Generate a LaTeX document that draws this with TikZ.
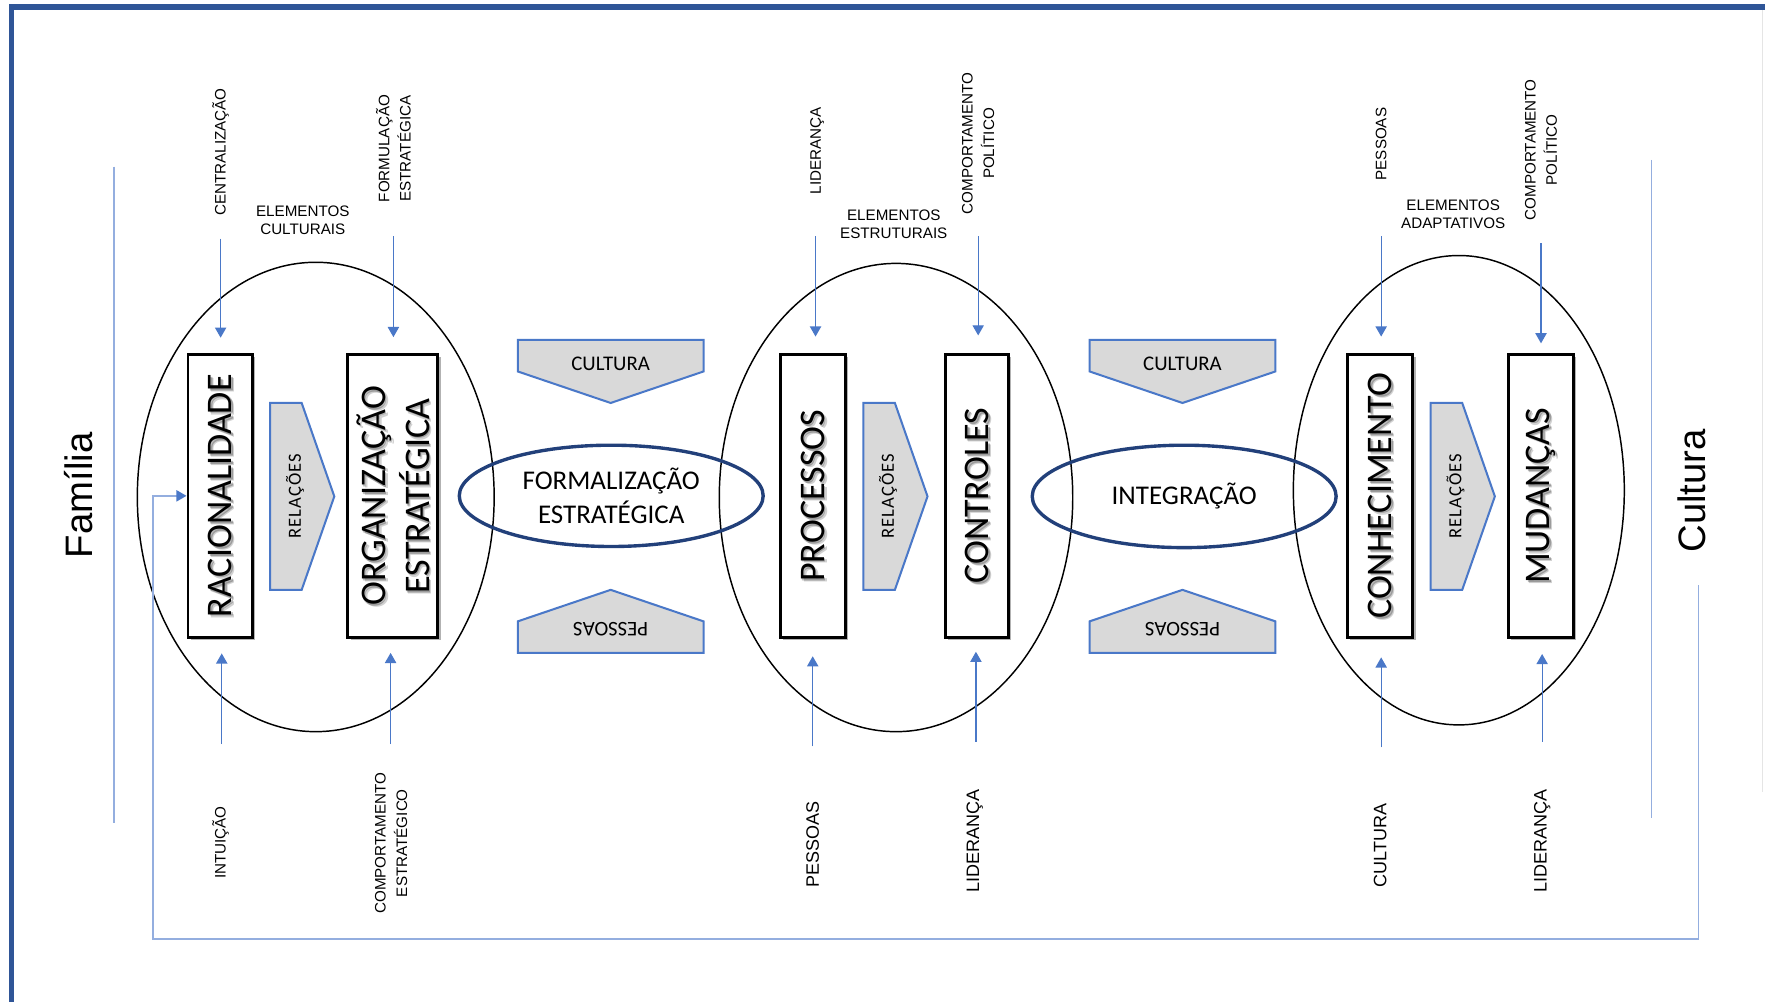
\documentclass[tikz,border=0pt]{standalone}
\usepackage{fontspec}
\setmainfont{Liberation Sans}
\newfontfamily\calfont{Carlito}
\usetikzlibrary{arrows.meta,shadows,shapes.geometric}
\definecolor{frameblue}{HTML}{2F5597}
\definecolor{arrblue}{HTML}{4A78C8}
\definecolor{lightblue}{HTML}{94AEDF}
\definecolor{navy}{HTML}{22407A}
\definecolor{shapegray}{HTML}{D9D9D9}
\tikzset{
  thinline/.style={draw=lightblue, line width=1.4pt},
  arr/.style={draw=arrblue, line width=1.1pt, -{Triangle[width=10pt,length=9pt]}},
  lbl/.style={inner sep=0pt, font=\fontsize{13.5}{16}\selectfont, align=center},
  lblbig/.style={inner sep=0pt, font=\fontsize{16}{19}\selectfont},
  lbltwo/.style={inner sep=0pt, font=\fontsize{13.5}{19}\selectfont, align=center},
  bigtext/.style={inner sep=0pt, font=\fontsize{34}{40}\selectfont},
  blackell/.style={draw=black, line width=1.3pt, ellipse, inner sep=0pt},
  blueell/.style={draw=navy, line width=3pt, ellipse, inner sep=0pt},
  elltext/.style={inner sep=0pt, font=\calfont\fontsize{24}{31}\selectfont, align=center},
  grayshape/.style={draw=arrblue, line width=1.8pt, fill=shapegray},
  shapetext/.style={inner sep=0pt, font=\calfont\fontsize{18.5}{22}\selectfont},
  reltext/.style={inner sep=0pt, font=\calfont\fontsize{16.5}{19}\selectfont\addfontfeature{LetterSpace=6}},
  cbox/.style={draw=black, line width=2.6pt, fill=white, inner sep=0pt, minimum height=251pt,
    drop shadow={shadow xshift=2.5pt, shadow yshift=-2.5pt, opacity=0.3, fill=black}},
  ctext/.style={inner sep=0pt, font=\calfont\fontsize{32}{39}\selectfont, align=center},
}
\newcommand\conceptbox[4]{%
  \node[cbox, minimum width=#3pt] (#1) at (#2,440.5) {};
  \node[ctext, text=black, opacity=0.18, rotate=90] (#1sha) at ([xshift=2.6pt,yshift=-2.6pt]#1.center) {#4};
  \node[ctext, text=black, opacity=0.25, rotate=90] (#1shb) at ([xshift=1.5pt,yshift=-1.5pt]#1.center) {#4};
  \node[ctext, rotate=90] (#1t) at (#1.center) {#4};
}
\newcommand\relshape[2]{%
  \draw[grayshape] (#2,358) -- ++(28,0) -- ++(29,83) -- ++(-29,83) -- ++(-28,0) -- cycle;
  \node[reltext, rotate=90] (#1) at (#2+22,441) {RELAÇÕES};
}
\newcommand\culshape[2]{%
  \draw[grayshape] (#2,302) -- ++(165,0) -- ++(0,28) -- ++(-82.5,28) -- ++(-82.5,-28) -- cycle;
  \node[shapetext] (#1) at (#2+82.5,323.5) {CULTURA};
}
\newcommand\pesshape[2]{%
  \draw[grayshape] (#2,580) -- ++(165,0) -- ++(0,-28) -- ++(-82.5,-28) -- ++(-82.5,28) -- cycle;
  \node[shapetext, rotate=180] (#1) at (#2+82.5,559) {PESSOAS};
}
\begin{document}
\begin{tikzpicture}[x=1pt,y=-1pt]
\useasboundingbox[fill=white] (0,0) rectangle (1568,890);
% frame
\draw[frameblue, line width=4.5pt, line join=miter] (10.5,895) -- (10.5,6.2) -- (1572,6.2);
\draw[black!10, line width=1pt] (1566,9) -- (1566,704);

% black ellipses
\node[blackell, minimum width=317pt, minimum height=417pt] (ell1) at (280.5,441.5) {};
\node[blackell, minimum width=314pt, minimum height=416pt] (ell2) at (796,442) {};
\node[blackell, minimum width=294pt, minimum height=417pt] (ell3) at (1296,435.5) {};

% blue ellipses
\node[blueell, minimum width=270pt, minimum height=90pt] (formell) at (543,440.5) {};
\node[elltext] (formt) at (543,440.5) {FORMALIZAÇÃO\\ESTRATÉGICA};
\node[blueell, minimum width=270pt, minimum height=91pt] (intell) at (1052,441) {};
\node[elltext] (intt) at (1052,441) {INTEGRAÇÃO};

% gray shapes
\culshape{cul1}{460}
\culshape{cul2}{968}
\pesshape{pes1}{460}
\pesshape{pes2}{968}
\relshape{rel1}{240}
\relshape{rel2}{767}
\relshape{rel3}{1271}

% boxes
\conceptbox{rac}{195.5}{57}{RACIONALIDADE}
\conceptbox{org}{349}{80}{ORGANIZAÇÃO\\ESTRATÉGICA}
\conceptbox{proc}{722}{58}{PROCESSOS}
\conceptbox{ctrl}{868}{56}{CONTROLES}
\conceptbox{conh}{1226}{58}{CONHECIMENTO}
\conceptbox{mud}{1369}{58}{MUDANÇAS}

% top arrows
\foreach \n/\x/\ya/\yb in {ta/196/212/300, tb/349.5/210/299.5, tc/724.5/210/299, td/869/210/298, te/1227/210/299, tf/1369/216/305}{
  \coordinate (\n s) at (\x,\ya);
  \coordinate (\n e) at (\x,\yb);
  \draw[arr] (\n s) -- (\n e);
}
% bottom arrows
\foreach \n/\x/\ya/\yb in {ba/197/661/580.5, bb/347/661/580, bc/722/663/583, bd/867/659/579, be/1227/664/584, bf/1370/659/581}{
  \coordinate (\n s) at (\x,\ya);
  \coordinate (\n e) at (\x,\yb);
  \draw[arr] (\n s) -- (\n e);
}

% top labels
\node[lbl, rotate=90] (lcent) at (196,135) {CENTRALIZAÇÃO};
\node[lbl] (lelc) at (269,196) {ELEMENTOS\\CULTURAIS};
\node[lbltwo, rotate=90] (lform) at (349.5,132) {FORMULAÇÃO\\ESTRATÉGICA};
\node[lbl, rotate=90] (llid) at (726,134) {LIDERANÇA};
\node[lbl] (lele) at (794,199) {ELEMENTOS\\ESTRUTURAIS};
\node[lbltwo, rotate=90] (lcpa) at (869,127.5) {COMPORTAMENTO\\POLÍTICO};
\node[lbl, rotate=90] (lpes) at (1227,128) {PESSOAS};
\node[lbl] (lela) at (1291,190.5) {ELEMENTOS\\ADAPTATIVOS};
\node[lbltwo, rotate=90] (lcpb) at (1369,133) {COMPORTAMENTO\\POLÍTICO};

% bottom labels
\node[lbl, rotate=90] (bint) at (196,748.5) {INTUIÇÃO};
\node[lbltwo, rotate=90] (bcom) at (347.5,749) {COMPORTAMENTO\\ESTRATÉGICO};
\node[lblbig, rotate=90] (bpes) at (722,750) {PESSOAS};
\node[lblbig, rotate=90] (blida) at (866,747) {LIDERANÇA};
\node[lblbig, rotate=90] (bcul) at (1226,751) {CULTURA};
\node[lblbig, rotate=90] (blidb) at (1370,747) {LIDERANÇA};

% side texts and lines
\node[bigtext, rotate=90] (fam) at (70,440) {Família};
\node[bigtext, rotate=90] (cult) at (1503,436) {Cultura};
\coordinate (famtop) at (101.5,148);
\coordinate (fambot) at (101.5,731);
\draw[thinline] (famtop) -- (fambot);
\coordinate (culttop) at (1467,142);
\coordinate (cultbot) at (1467,727);
\draw[thinline] (culttop) -- (cultbot);
\coordinate (fbstart) at (1509,520);
\coordinate (fbcorner) at (136,834);
\draw[thinline, -{Triangle[width=10pt,length=9pt,color=arrblue]}] (fbstart) |- (fbcorner) |- (rac.west);
\end{tikzpicture}
\end{document}
